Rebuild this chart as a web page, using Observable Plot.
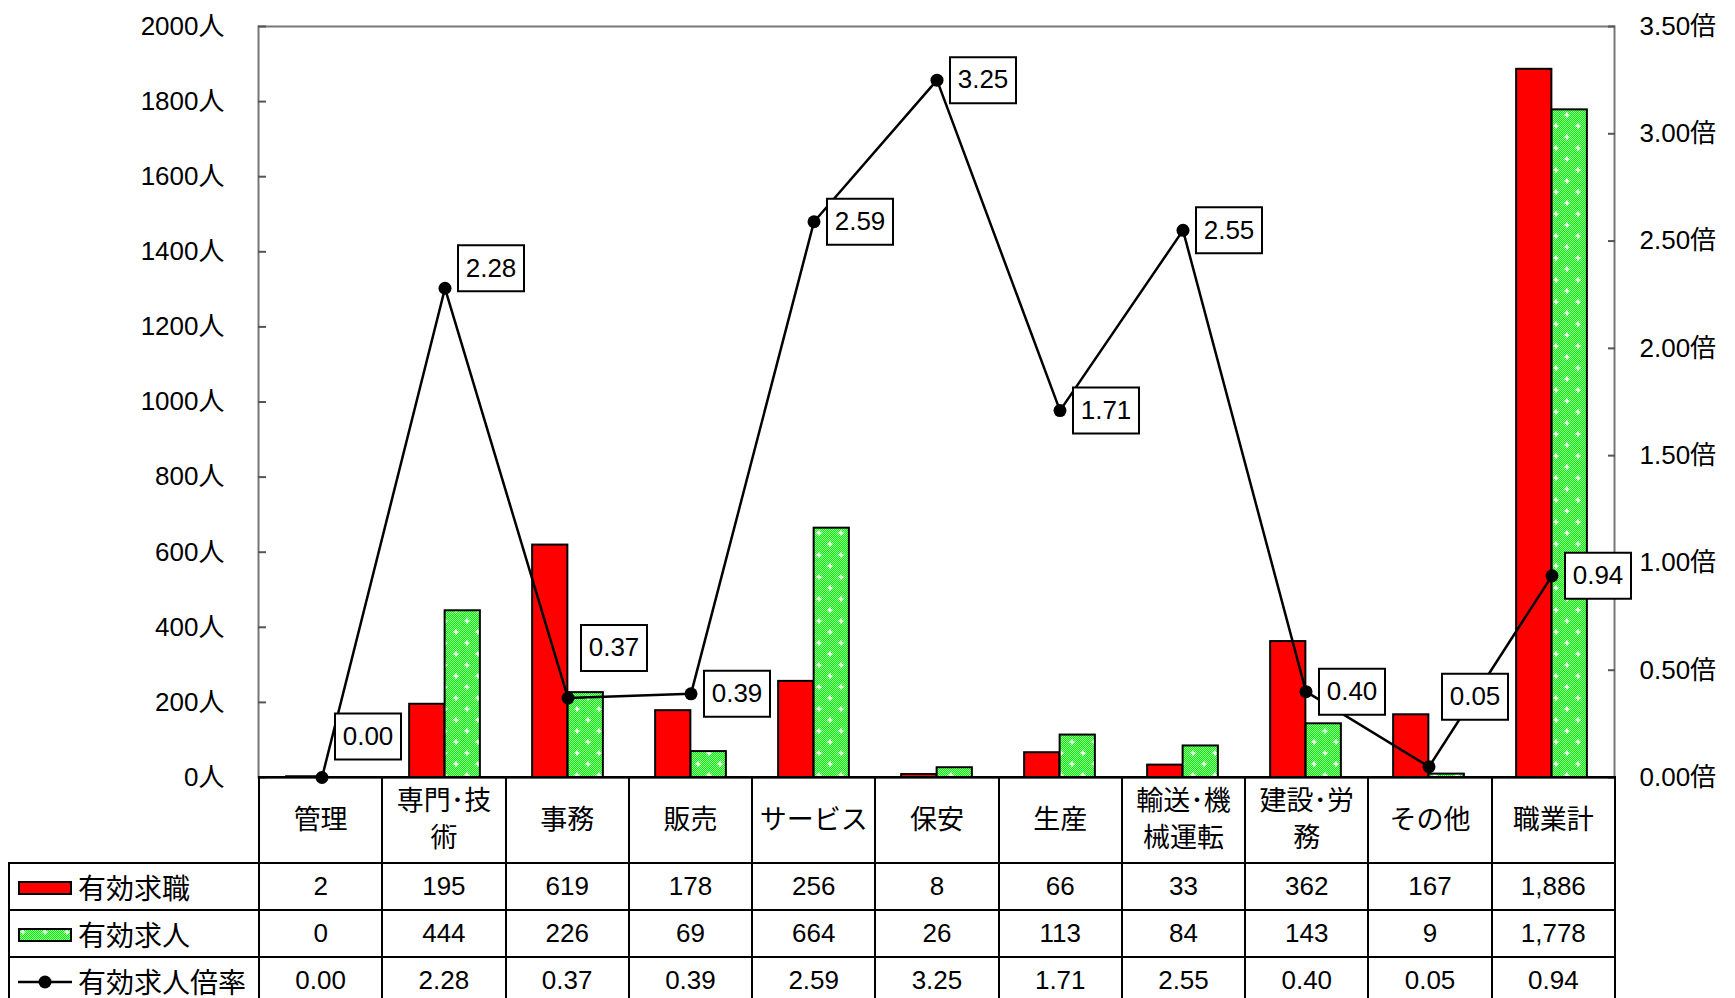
<!DOCTYPE html>
<html><head><meta charset="utf-8">
<script src="https://cdn.jsdelivr.net/npm/d3@7"></script>
<script src="https://cdn.jsdelivr.net/npm/@observablehq/plot@0.6"></script>
<style>
html,body{margin:0;padding:0;background:#fff;overflow:hidden;}
#wrap{position:relative;width:1735px;height:998px;overflow:hidden;}
#chart{position:absolute;left:0;top:0;}
#tbl{position:absolute;left:8px;top:776px;border-collapse:collapse;table-layout:fixed;font-family:"Liberation Sans","Noto Sans CJK JP",sans-serif;color:#000;}
#tbl td,#tbl th{border:2px solid #000;padding:0;text-align:center;font-weight:normal;}
#tbl th{font-size:27px;line-height:37px;height:84px;}
#tbl td{font-size:26px;height:45px;}
#tbl th.blank{border-top:none;border-left:none;}
#tbl td.leg{text-align:left;padding-left:8px;font-size:28px;white-space:nowrap;}
#tbl td.leg svg{vertical-align:middle;margin-right:6px;position:relative;top:-3px;}
</style>
</head><body>
<div id="wrap"><div id="chart"></div><table id="tbl"></table></div>
<script>
// ---- data ----
const categories = ["管理","専門･技術","事務","販売","サービス","保安","生産","輸送･機械運転","建設･労務","その他","職業計"];
const seekers  = [2,195,619,178,256,8,66,33,362,167,1886];      // 有効求職
const openings = [0,444,226,69,664,26,113,84,143,9,1778];       // 有効求人
const ratios   = [0.00,2.28,0.37,0.39,2.59,3.25,1.71,2.55,0.40,0.05,0.94]; // 有効求人倍率
const seriesNames = ["有効求職","有効求人","有効求人倍率"];
const leftTicks  = [0,200,400,600,800,1000,1200,1400,1600,1800,2000];
const rightTicks = [0,0.5,1.0,1.5,2.0,2.5,3.0,3.5];

// ---- layout ----
const W = 1735, H = 780, ML = 258, MR = 1735 - 1614, MT = 26, MB = 3;
const labelNudge = [-41,-20,-50,0,0,0,0,0,0,-70,0]; // vertical nudge of ratio labels (px)
const k = 2000 / 3.5; // ratio -> left-axis units
const bw = (W - ML - MR) / categories.length;
const barW = 35.5;

const rows = categories.map((c, i) => ({cat: c, seeker: seekers[i], opening: openings[i], ratio: ratios[i], scaled: ratios[i] * k, nudge: labelNudge[i]}));

const defsMark = () => {
  const ns = "http://www.w3.org/2000/svg";
  const defs = document.createElementNS(ns, "defs");
  defs.innerHTML = `
    <pattern id="chk" width="2" height="2" patternUnits="userSpaceOnUse">
      <rect width="2" height="2" fill="#00f400"/>
      <rect width="1" height="1" fill="#9cff9c"/>
      <rect x="1" y="1" width="1" height="1" fill="#9cff9c"/>
    </pattern>
    <pattern id="grn" width="22" height="22" patternUnits="userSpaceOnUse">
      <rect width="22" height="22" fill="url(#chk)"/>
      <path d="M5,2.5v5M2.5,5h5M16,13.5v5M13.5,16h5" stroke="#fff" stroke-width="1.6"/>
    </pattern>`;
  return defs;
};

const boxSymbol = {draw(ctx) { ctx.rect(-33, -23, 66, 46); }};

const labelMarks = rows.flatMap(r => [
  Plot.dot([r], {x: "cat", y: "scaled", dx: 46, dy: r.nudge, symbol: boxSymbol, r: 10, fill: "white", stroke: "black", strokeWidth: 2}),
  Plot.text([r], {x: "cat", y: "scaled", dx: 46, dy: r.nudge, text: d => d.ratio.toFixed(2), fontSize: 26, fill: "black"})
]);

const chart = Plot.plot({
  width: W, height: H,
  marginLeft: ML, marginRight: MR, marginTop: MT, marginBottom: MB,
  style: {fontFamily: "'Liberation Sans','Noto Sans CJK JP',sans-serif", fontSize: "26px", background: "white", color: "black", overflow: "visible"},
  x: {type: "band", domain: categories, padding: 0, axis: null},
  y: {domain: [0, 2000], axis: null},
  marks: [
    defsMark,
    Plot.frame({stroke: "#777", strokeWidth: 2}),
    Plot.axisY({anchor: "left", ticks: leftTicks, tickSize: -8, tickPadding: 42, tickFormat: d => d + "人", fontSize: 26, stroke: "#555", strokeWidth: 2}),
    Plot.axisY({anchor: "right", ticks: rightTicks.map(v => v * k), tickSize: -7, tickPadding: 32, tickFormat: d => (d / k).toFixed(2) + "倍", fontSize: 26, stroke: "#555", strokeWidth: 2}),
    Plot.barY(rows, {x: "cat", y: "seeker", fill: "#ff0000", stroke: "black", strokeWidth: 2, insetLeft: bw / 2 - barW, insetRight: bw / 2}),
    Plot.barY(rows, {x: "cat", y: "opening", fill: "url(#grn)", stroke: "black", strokeWidth: 2, insetLeft: bw / 2, insetRight: bw / 2 - barW}),
    Plot.ruleY([0], {stroke: "black", strokeWidth: 2}),
    Plot.line(rows, {x: "cat", y: "scaled", stroke: "black", strokeWidth: 2.5}),
    Plot.dot(rows, {x: "cat", y: "scaled", r: 6.5, fill: "black"}),
    ...labelMarks
  ]
});
document.getElementById("chart").appendChild(chart);

// ---- data table below the chart ----
const legendSym = [
  `<svg width="54" height="16"><rect x="1" y="2" width="52" height="12" fill="#ff0000" stroke="#000" stroke-width="2"/></svg>`,
  `<svg width="54" height="16"><rect x="1" y="2" width="52" height="12" fill="url(#grn)" stroke="#000" stroke-width="2"/></svg>`,
  `<svg width="54" height="16"><line x1="0" y1="8" x2="54" y2="8" stroke="#000" stroke-width="2.5"/><circle cx="27" cy="8" r="6.5" fill="#000"/></svg>`
];
const fmtInt = d3.format(",");
const series = [seekers.map(fmtInt), openings.map(fmtInt), ratios.map(v => v.toFixed(2))];
const wrapName = s => s.length > 4 ? s.slice(0, 4) + "<br>" + s.slice(4) : s;
let html = `<colgroup><col style="width:250px">` + categories.map(() => `<col style="width:${bw}px">`).join("") + `</colgroup>`;
html += `<tr><th class="blank"></th>` + categories.map(c => `<th>${wrapName(c)}</th>`).join("") + `</tr>`;
series.forEach((vals, si) => {
  html += `<tr><td class="leg">${legendSym[si]}${seriesNames[si]}</td>` + vals.map(v => `<td>${v}</td>`).join("") + `</tr>`;
});
const tbl = document.getElementById("tbl");
tbl.style.width = (250 + bw * categories.length) + "px";
tbl.innerHTML = html;
</script>
</body></html>
